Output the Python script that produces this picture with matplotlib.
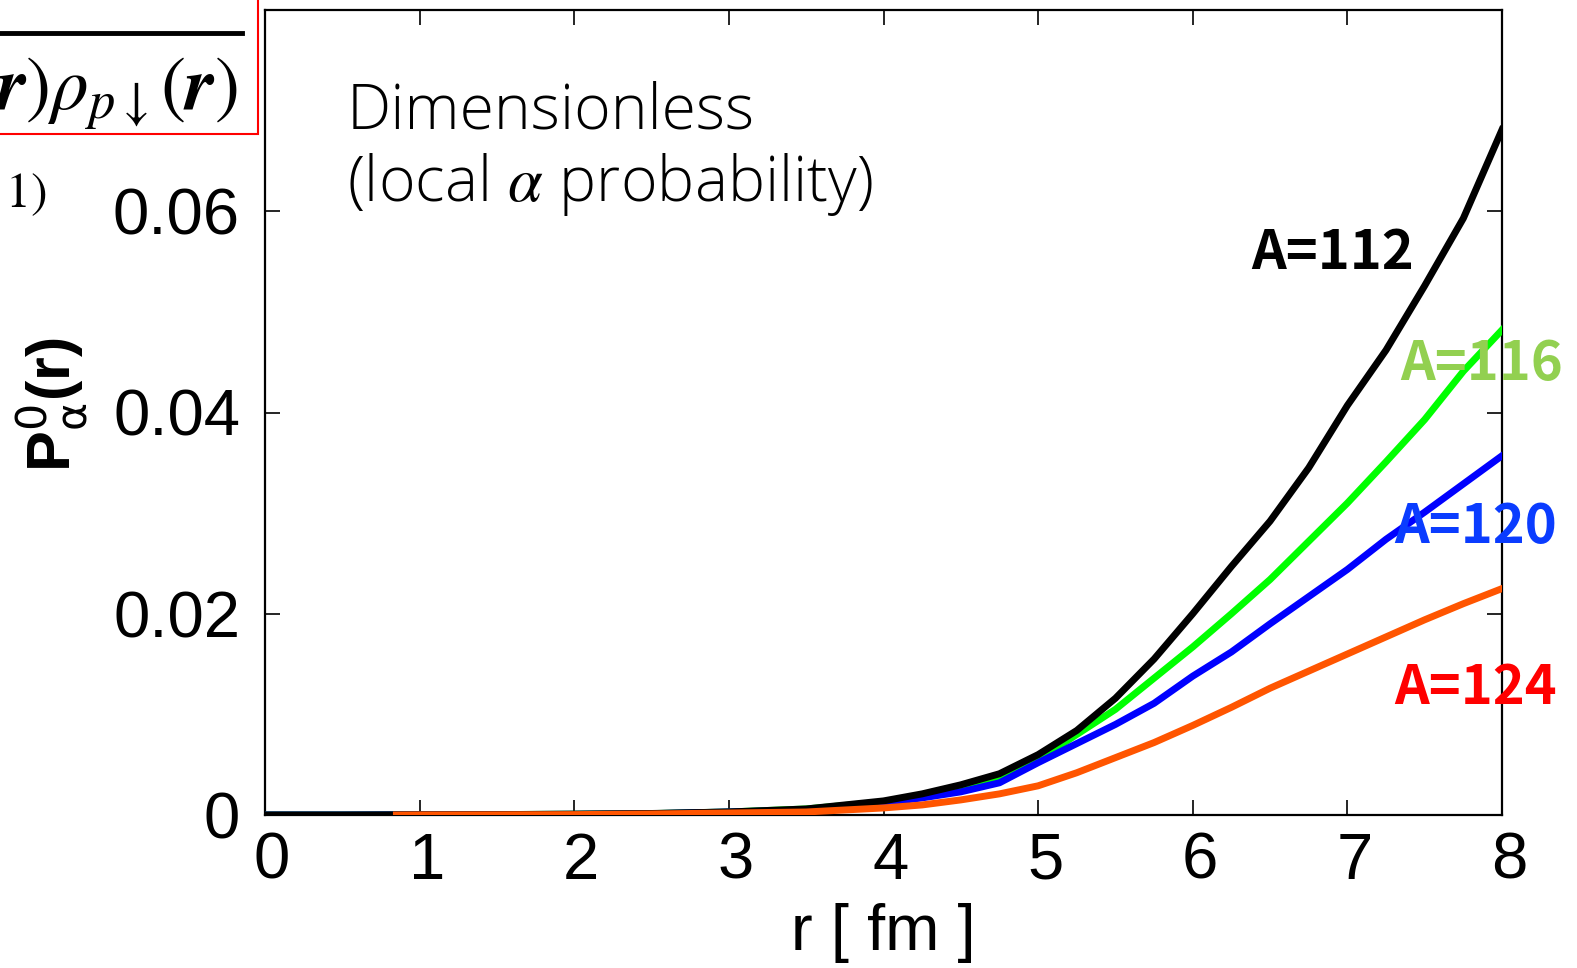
import matplotlib
matplotlib.use("Agg")
import matplotlib.pyplot as plt
from matplotlib.lines import Line2D
from matplotlib.patches import Rectangle
from matplotlib.transforms import ScaledTranslation

W, H = 1577, 968

plt.rcParams["font.family"] = ["Liberation Sans", "DejaVu Sans"]
plt.rcParams["mathtext.fontset"] = "stix"

# radial grid [fm] and local alpha probability for each isotope
r = [0.0, 0.5, 1.0, 1.5, 2.0, 2.5, 3.0, 3.5, 4.0, 4.25, 4.5, 4.75, 5.0,
     5.25, 5.5, 5.75, 6.0, 6.25, 6.5, 6.75, 7.0, 7.25, 7.5, 7.75, 8.0]
p_112 = [0.0, 0.0, 0.00002, 0.00004, 0.00008, 0.00015, 0.0003, 0.0006, 0.0014,
         0.0021, 0.0030, 0.0041, 0.0060, 0.0084, 0.0116, 0.0155, 0.0200, 0.0247,
         0.0292, 0.0345, 0.0407, 0.0462, 0.0526, 0.0593, 0.0681]
p_116 = [0.0, 0.0, 0.00002, 0.00004, 0.00008, 0.00014, 0.0003, 0.0006, 0.0013,
         0.0019, 0.0027, 0.0036, 0.0055, 0.0080, 0.0105, 0.0136, 0.0167, 0.0200,
         0.0234, 0.0272, 0.0310, 0.0351, 0.0393, 0.0441, 0.0482]
p_120 = [0.0, 0.0, 0.00002, 0.00004, 0.00007, 0.00013, 0.0003, 0.0005, 0.0012,
         0.0017, 0.0023, 0.0032, 0.0052, 0.0071, 0.0090, 0.0111, 0.0138, 0.0162,
         0.0190, 0.0217, 0.0244, 0.0274, 0.0301, 0.0329, 0.0357]
r_124 = [0.85] + r[2:]
p_124 = [0.0, 0.00001, 0.00002, 0.00004, 0.0001, 0.0002, 0.0003, 0.0007, 0.0010,
         0.0015, 0.0021, 0.0029, 0.0042, 0.0057, 0.0072, 0.0089, 0.0107, 0.0126,
         0.0143, 0.0160, 0.0177, 0.0194, 0.0210, 0.0225]

labels = ["A=112", "A=116", "A=120", "A=124"]
line_colors = ["#000000", "#00ff00", "#0000ff", "#ff5500"]
label_colors = ["#000000", "#92d050", "#0a3cff", "#ff0000"]
# label anchor (left, baseline) in data units
label_pos = [(6.38, 0.0543), (7.34, 0.0432), (7.30, 0.0270), (7.30, 0.0110)]

xticks = [0, 1, 2, 3, 4, 5, 6, 7, 8]
yticks = [0, 0.02, 0.04, 0.06]
yticklabels = ["0", "0.02", "0.04", "0.06"]


def px(x, y):
    return x / W, 1 - y / H


fig = plt.figure(figsize=(W / 100, H / 100), dpi=100)
ax = fig.add_axes([265 / W, 1 - 815 / H, (1502 - 265) / W, (815 - 10) / H])

lw = 5.0
ax.plot(r, p_116, color=line_colors[1], lw=lw, zorder=3)
ax.plot(r, p_120, color=line_colors[2], lw=lw, zorder=4)
ax.plot(r, p_112, color=line_colors[0], lw=lw, zorder=5)
ax.plot(r_124, p_124, color=line_colors[3], lw=lw, zorder=6)

ax.set_xlim(0, 8)
ax.set_ylim(0, 0.08)
ax.set_xticks(xticks)
ax.set_yticks(yticks)
ax.set_yticklabels(yticklabels)
ax.tick_params(direction="in", length=11, width=1.2, labelsize=47,
               top=True, right=True, pad=12)
ax.tick_params(axis="y", pad=18)
shift = ScaledTranslation(7 / 100, 0, fig.dpi_scale_trans)
for lab in ax.get_xticklabels():
    lab.set_transform(lab.get_transform() + shift)
for s in ax.spines.values():
    s.set_linewidth(1.6)

ax.set_xlabel("r [ fm ]", fontsize=47, labelpad=8)
fig.text(*px(52, 405), r"P$^{0}_{\mathrm{\alpha}}$(r)", rotation=90,
         fontsize=44, fontweight="bold", math_fontfamily="dejavusans",
         ha="center", va="center")

for lab, c, (x, y) in zip(labels, label_colors, label_pos):
    ax.text(x, y, lab, color=c, fontsize=39, fontweight="bold",
            family=["Noto Sans CJK JP", "DejaVu Sans"], ha="left",
            va="baseline", clip_on=False, zorder=8)

note_font = ["Open Sans", "DejaVu Sans"]
ax.text(0.53, 0.0682, "Dimensionless", fontsize=45, family=note_font,
        fontweight="light", ha="left", va="baseline")
ax.text(0.53, 0.0610, r"(local $\alpha$ probability)", fontsize=45,
        family=note_font, fontweight="light", ha="left", va="baseline")

# formula panel cut at the figure's left edge
fig.patches.append(Rectangle(px(-10, 134), 268 / W, 160 / H, fill=False,
                             edgecolor="#ff0000", lw=1.5,
                             transform=fig.transFigure, figure=fig))
fig.lines.append(Line2D([0, 242 / W], [1 - 33 / H] * 2, color="black", lw=3.5,
                        transform=fig.transFigure, figure=fig))
fig.text(*px(238, 110),
         r"$\rho_{n\downarrow}(\mathbfit{r})\rho_{p\downarrow}(\mathbfit{r})$",
         fontsize=54, ha="right", va="baseline")
fig.text(*px(46, 207), r"$1)$", fontsize=36, ha="right", va="baseline")

fig.savefig("out.png", dpi=100)
